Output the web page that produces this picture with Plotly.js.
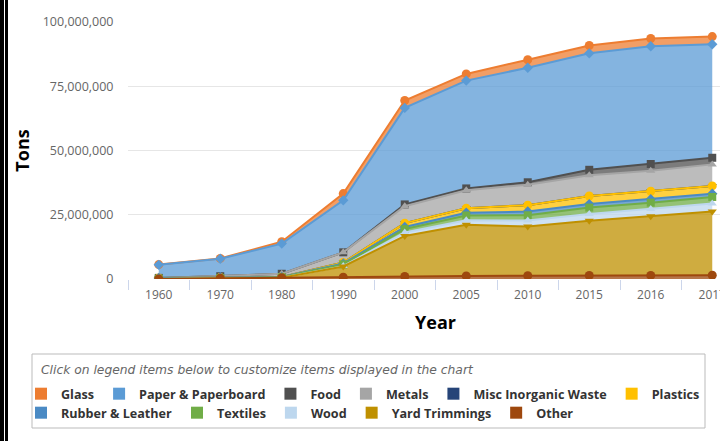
<!DOCTYPE html>
<html><head><meta charset="utf-8">
<script src="https://cdn.plot.ly/plotly-3.0.1.min.js"></script>
<style>
html,body{margin:0;padding:0;width:720px;height:441px;overflow:hidden;background:#fff;}
#chart{position:absolute;left:0;top:0;width:760px;height:441px;}
.edge{position:absolute;top:0;height:441px;background:#000;}
</style></head><body>
<div id="chart"></div>
<div class="edge" style="left:0;width:4px"></div>
<div class="edge" style="left:5px;width:3px"></div>
<script>
// Categories
const years = ['1960','1970','1980','1990','2000','2005','2010','2015','2016','2017'];
// Series values (tons)
const glass    = [100000,160000,750000,2630000,2880000,2590000,3130000,3030000,3050000,3000000];
const paper    = [5080000,6770000,11740000,20230000,37560000,41960000,44570000,45320000,45800000,44160000];
const food     = [0,0,0,0,680000,690000,970000,2110000,2600000,2570000];
const metals   = [50000,480000,1220000,3970000,6600000,6990000,7920000,8100000,8000000,8390000];
const misc     = [0,0,0,0,0,0,0,0,0,0];
const plastics = [0,0,20000,370000,1480000,1780000,2500000,3140000,3100000,3000000];
const rubber   = [330000,250000,130000,370000,820000,1050000,1440000,1350000,1350000,1300000];
const textiles = [50000,60000,160000,660000,1320000,1830000,2050000,2460000,2500000,2570000];
const wood     = [0,0,0,130000,1370000,1830000,2280000,2660000,2800000,3100000];
const yard     = [0,0,0,4200000,15770000,19860000,19200000,21290000,23000000,24800000];
const other    = [0,300000,500000,680000,980000,1210000,1270000,1380000,1400000,1440000];
// Tick values of the y axis
const yTicks = [0,25000000,50000000,75000000,100000000];
// Legend rows
const legendRow1 = ['Glass','Paper & Paperboard','Food','Metals','Misc Inorganic Waste','Plastics'];
const legendRow2 = ['Rubber & Leather','Textiles','Wood','Yard Trimmings','Other'];

// stacking order, bottom to top
const series = [
  {name:'Other', y:other, color:'#9E480E', symbol:'circle'},
  {name:'Yard Trimmings', y:yard, color:'#BF9000', symbol:'triangle-down'},
  {name:'Wood', y:wood, color:'#BDD7EE', symbol:'triangle-up'},
  {name:'Textiles', y:textiles, color:'#70AD47', symbol:'square'},
  {name:'Rubber & Leather', y:rubber, color:'#4A8AC4', symbol:'diamond'},
  {name:'Plastics', y:plastics, color:'#FFC000', symbol:'circle'},
  {name:'Misc Inorganic Waste', y:misc, color:'#264478', symbol:'triangle-down'},
  {name:'Metals', y:metals, color:'#A5A5A5', symbol:'triangle-up'},
  {name:'Food', y:food, color:'#505050', symbol:'square'},
  {name:'Paper & Paperboard', y:paper, color:'#5B9BD5', symbol:'diamond'},
  {name:'Glass', y:glass, color:'#ED7D31', symbol:'circle'}
];
function rgba(hex,a){const n=parseInt(hex.slice(1),16);return 'rgba('+(n>>16)+','+((n>>8)&255)+','+(n&255)+','+a+')';}

const traces = [];
series.forEach(s => traces.push({
  type:'scatter', x:years, y:s.y, name:s.name, stackgroup:'fill', mode:'none',
  fillcolor:rgba(s.color,0.75), showlegend:false, hoverinfo:'skip'
}));
series.forEach((s,i) => traces.push({
  type:'scatter', x:years, y:s.y, name:s.name, stackgroup:'line', fill:'none', mode:'lines+markers',
  line:{color:s.color, width:2}, marker:{color:s.color, symbol:s.symbol, size:s.symbol==='circle'?9:8},
  zorder:20-i, showlegend:false
}));
const byName = {}; series.forEach(s => byName[s.name]=s);
legendRow1.forEach(n => traces.push({type:'scatter', x:[null], y:[null], name:n, mode:'markers',
  marker:{symbol:'square', size:12, color:byName[n].color}, legend:'legend', hoverinfo:'skip'}));
legendRow2.forEach(n => traces.push({type:'scatter', x:[null], y:[null], name:n, mode:'markers',
  marker:{symbol:'square', size:12, color:byName[n].color}, legend:'legend2', hoverinfo:'skip'}));

const W=760, L=128, R=17, T=22, B=162, PW=W-L-R, PH=441-T-B;
const px = x => (x-L)/PW, py = y => (T+PH-y)/PH;
const legFont = {family:'Open Sans', size:12.6, color:'#333', weight:700};

const layout = {
  width:W, height:441,
  margin:{l:L, r:R, t:T, b:B, autoexpand:false},
  paper_bgcolor:'#fff', plot_bgcolor:'#fff',
  font:{family:'Open Sans', color:'#666'},
  xaxis:{type:'category', range:[-0.5, years.length-0.5], tickson:'boundaries', ticks:'outside', ticklen:10, tickcolor:'#ccd6eb',
    showline:true, linecolor:'#ccd6eb', showgrid:false, zeroline:false, ticklabelstandoff:5,
    tickfont:{family:'Open Sans', size:12, color:'#666'},
    title:{text:'Year', font:{family:'Open Sans', size:18, weight:700, color:'#000'}, standoff:13}},
  yaxis:{range:[0,100000000], tickvals:yTicks, tickformat:',', showgrid:true, gridcolor:'#e6e6e6',
    showline:true, linecolor:'#d8d8d8', zeroline:false, ticks:'', ticklabelstandoff:11,
    tickfont:{family:'Open Sans', size:12.5, color:'#666'},
    title:{text:'Tons', font:{family:'Open Sans', size:18, weight:700, color:'#000'}, standoff:8}},
  legend:{orientation:'h', x:px(21), xanchor:'left', y:py(394), yanchor:'middle', font:legFont,
    bgcolor:'rgba(0,0,0,0)', borderwidth:0, traceorder:'normal'},
  legend2:{orientation:'h', x:px(21), xanchor:'left', y:py(413), yanchor:'middle', font:legFont,
    bgcolor:'rgba(0,0,0,0)', borderwidth:0, traceorder:'normal'},
  annotations:[{xref:'paper', yref:'paper', x:px(39), y:py(370), xanchor:'left', yanchor:'middle',
    showarrow:false, text:'Click on legend items below to customize items displayed in the chart',
    font:{family:'DejaVu Sans', size:12.3, color:'#666', style:'italic'}}],
  shapes:[{type:'rect', xref:'paper', yref:'paper', x0:px(32), x1:px(705), y0:py(428), y1:py(354),
    line:{color:'#bbbbbb', width:1}, fillcolor:'rgba(0,0,0,0)'}],
  hovermode:false
};
Plotly.newPlot('chart', traces, layout, {displayModeBar:false, responsive:false});
</script>
</body></html>
